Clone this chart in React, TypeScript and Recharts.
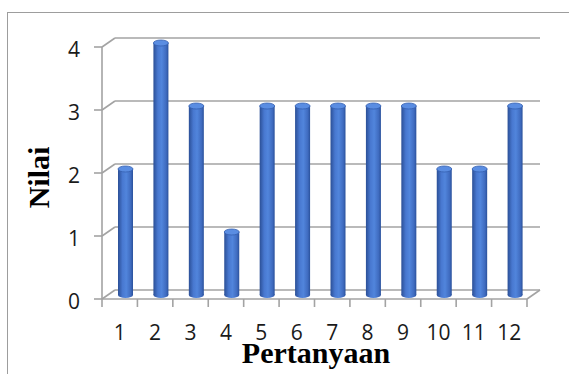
import React from 'react';
import { BarChart, Bar, XAxis, YAxis, CartesianGrid, Label } from 'recharts';

// Nilai per pertanyaan
const categories = ['1', '2', '3', '4', '5', '6', '7', '8', '9', '10', '11', '12'];
const nilai = [2, 4, 3, 1, 3, 3, 3, 3, 3, 2, 2, 3];
const yTicks = [0, 1, 2, 3, 4];

const data = categories.map((c, i) => ({ pertanyaan: c, nilai: nilai[i] }));

const W = 569;
const H = 374;
const MARGIN = { top: 47, right: 42, bottom: 45, left: 42 };
const Y_AXIS_W = 60;
const X_AXIS_H = 30;
const PLOT_W = W - MARGIN.left - MARGIN.right - Y_AXIS_W;
const HALF_BAND = PLOT_W / categories.length / 2;

// pseudo-3D depth of the walls and of the bar row
const DEPTH_X = 13;
const DEPTH_Y = 9;
const BAR_DX = 6;
const BAR_DY = 4;

const GRID = '#a3a3a3';
const TICK_FONT = '"Open Sans", "Noto Sans", sans-serif';
const TITLE_FONT = '"Liberation Serif", "DejaVu Serif", serif';

const GridLine = (p: any) => {
  const { x1, y1, x2, y, height } = p;
  const isFloor = Math.abs(y1 - (y + height)) < 1;
  const bx1 = x1 + DEPTH_X;
  const bx2 = x2 + DEPTH_X;
  const by = y1 - DEPTH_Y;
  if (isFloor) {
    return (
      <g stroke={GRID} strokeWidth={1.6} fill="none">
        <line x1={x1} y1={y1} x2={x2} y2={y1} />
        <line x1={x1} y1={y1} x2={bx1} y2={by} />
        <line x1={x2} y1={y1} x2={bx2} y2={by} />
        <line x1={bx1} y1={by} x2={bx2} y2={by} />
      </g>
    );
  }
  return (
    <g stroke={GRID} strokeWidth={1.6} fill="none">
      <line x1={x1} y1={y1} x2={bx1} y2={by} />
      <line x1={bx1} y1={by} x2={bx2} y2={by} />
    </g>
  );
};

const Cylinder = (p: any) => {
  const { x, y, width, height } = p;
  if (!height) return null;
  const left = x + BAR_DX;
  const top = y - BAR_DY;
  const bottom = y + height - BAR_DY;
  const cx = left + width / 2;
  const ry = 3;
  return (
    <g>
      <ellipse cx={cx} cy={bottom} rx={width / 2} ry={ry} fill="url(#cylBody)" />
      <rect x={left} y={top} width={width} height={bottom - top} fill="url(#cylBody)" />
      <ellipse cx={cx} cy={top} rx={width / 2} ry={ry} fill="#5a8de2" stroke="#3560b0" strokeWidth={0.8} />
    </g>
  );
};

const XTick = (p: any) => {
  const { x, y, payload, index } = p;
  const axisY = y - 10;
  const last = index === categories.length - 1;
  return (
    <g>
      <line x1={x - HALF_BAND} y1={axisY} x2={x - HALF_BAND} y2={axisY + 8} stroke={GRID} strokeWidth={1.6} />
      {last && (
        <line x1={x + HALF_BAND} y1={axisY} x2={x + HALF_BAND} y2={axisY + 8} stroke={GRID} strokeWidth={1.6} />
      )}
      <text x={x} y={y + 31} textAnchor="middle" fontFamily={TICK_FONT} fontSize={21} fill="#1a1a1a">
        {payload.value}
      </text>
    </g>
  );
};

const YTick = (p: any) => {
  const { x, y, payload } = p;
  return (
    <text x={x} y={y + 10} textAnchor="end" fontFamily={TICK_FONT} fontSize={21} fill="#1a1a1a">
      {payload.value}
    </text>
  );
};

const YTitle = (p: any) => {
  const vb = p.viewBox;
  const cx = vb.x + 7;
  const cy = vb.y + vb.height / 2 + 4.5;
  return (
    <text
      x={cx}
      y={cy}
      textAnchor="middle"
      transform={`rotate(-90, ${cx}, ${cy})`}
      fontFamily={TITLE_FONT}
      fontWeight="bold"
      fontSize={30}
      fill="#000"
    >
      Nilai
    </text>
  );
};

const XTitle = (p: any) => {
  const vb = p.viewBox;
  return (
    <text
      x={vb.x + vb.width / 2 + 1.5}
      y={vb.y + 64}
      textAnchor="middle"
      fontFamily={TITLE_FONT}
      fontWeight="bold"
      fontSize={30}
      fill="#000"
    >
      Pertanyaan
    </text>
  );
};

export default function App() {
  return (
    <div style={{ position: 'absolute', left: 0, top: 0, width: W, height: H, overflow: 'hidden', background: '#fff' }}>
      <div
        style={{
          position: 'absolute',
          left: 7,
          top: 12,
          width: W,
          height: H,
          borderTop: '1.5px solid #9d9d9d',
          borderLeft: '1.5px solid #9d9d9d',
        }}
      />
      <BarChart width={W} height={H} data={data} margin={MARGIN} barCategoryGap={0}>
        <defs>
          <linearGradient id="cylBody" x1="0" y1="0" x2="1" y2="0">
            <stop offset="0%" stopColor="#2b4f96" />
            <stop offset="30%" stopColor="#4878d0" />
            <stop offset="55%" stopColor="#5185dc" />
            <stop offset="85%" stopColor="#3f6bbf" />
            <stop offset="100%" stopColor="#2a519b" />
          </linearGradient>
        </defs>
        <CartesianGrid horizontal={GridLine} vertical={false} />
        <XAxis
          dataKey="pertanyaan"
          height={X_AXIS_H}
          interval={0}
          tickLine={false}
          axisLine={false}
          tickSize={8}
          tick={XTick}
        >
          <Label content={XTitle} />
        </XAxis>
        <YAxis
          type="number"
          domain={[0, 4]}
          ticks={yTicks}
          width={Y_AXIS_W}
          tickSize={8}
          tickMargin={14}
          axisLine={{ stroke: GRID, strokeWidth: 1.6 }}
          tickLine={{ stroke: GRID, strokeWidth: 1.6 }}
          tick={YTick}
        >
          <Label content={YTitle} />
        </YAxis>
        <Bar dataKey="nilai" barSize={15} shape={Cylinder} isAnimationActive={false} />
      </BarChart>
    </div>
  );
}
